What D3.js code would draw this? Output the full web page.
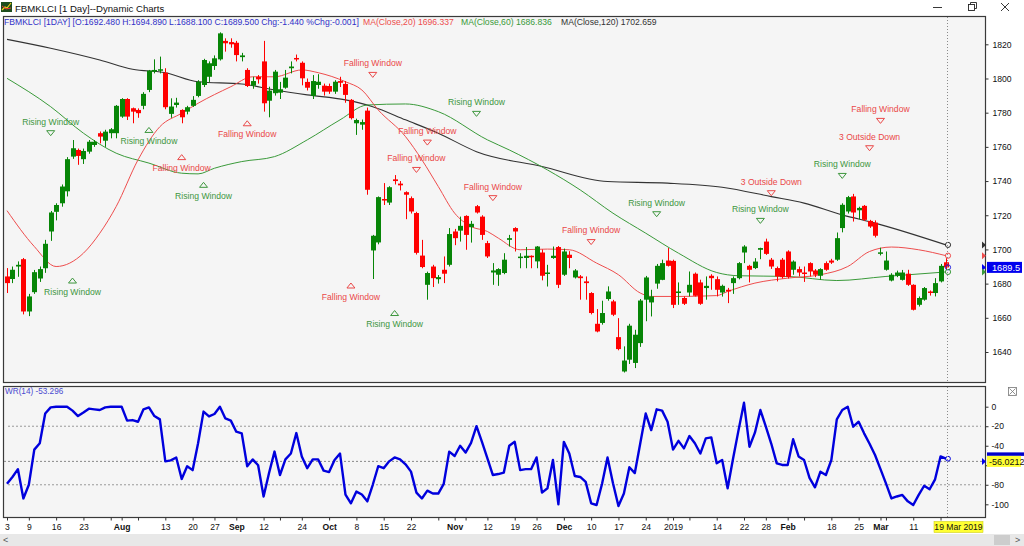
<!DOCTYPE html>
<html>
<head>
<meta charset="utf-8">
<script src="https://cdn.jsdelivr.net/npm/d3@7"></script>
<style>
  body { margin: 0; background: #fff; }
  svg { display: block; font-family: "Liberation Sans", Arial, sans-serif; }
</style>
</head>
<body>
<svg id="chart"></svg>
<script>
// ---- data (FBMKLCI daily, 3 Jul 2018 .. 19 Mar 2019) ----
const opens = [1684.2,1682.7,1690,1694.3,1663.7,1675,1683,1689,1710.5,1722,1727,1734,1754.3,1758.2,1752.8,1757.2,1761.1,1768,1763.6,1768,
  1768,1777.7,1788,1782.6,1781.6,1784,1793.3,1804,1804.6,1803.4,1779.3,1784.5,1781.6,1780.6,1784,1789.8,1796.2,1801,1807.3,1811.2,
  1822,1821.3,1820.9,1812.5,1805,1795.8,1801,1810,1787,1791.4,1791.7,1794.6,1806,1812,1809.2,1798,1789.8,1796.2,1795.8,1795.6,
  1792.3,1798.5,1796.8,1787.5,1773.8,1773,1781.2,1699.4,1704.1,1729.5,1727.4,1741,1738.5,1733.5,1730,1721.3,1696.4,1679.3,1690,1682.6,
  1688.1,1691,1710.5,1711,1719.6,1713,1725.3,1719.2,1703.7,1686.5,1685.2,1686.2,1705.6,1712.5,1695.3,1695,1696.3,1693,1698.2,1685.8,
  1695,1701.4,1685.2,1696.9,1683.6,1684.2,1681.3,1674.5,1656.5,1657,1671,1669.6,1648.7,1628.6,1635.5,1633.6,1645.2,1670.6,1669,1680,
  1682.2,1693.5,1693.3,1674.5,1671.6,1674.8,1685.8,1680.7,1677.4,1684.6,1682.6,1674.8,1676.4,1680.3,1683.2,1698.2,1690.4,1689.1,1699.8,1704.6,
  1694,1689.1,1694,1698.8,1688.1,1688.5,1686.5,1692,1687.7,1684.6,1692,1693.5,1694,1712.5,1722.2,1731,1722.9,1725.5,1716.7,1715.7,
  1698,1688.1,1681.8,1684.6,1682.2,1685.8,1679.3,1667.6,1670.6,1675.4,1674.5,1681.3,1692.48];
const highs = [1689.1,1690,1693,1695,1674,1688,1690,1705.6,1722.5,1727,1738,1754,1764,1759,1759,1764,1764,1769,1770,1771,
  1784.5,1788.5,1788.5,1783,1782.5,1792,1805,1811.2,1812.8,1806,1788.4,1788.7,1782,1784,1789.7,1799,1811.5,1810,1813.5,1827,
  1823.5,1823.5,1822,1815,1806,1801,1802,1822,1795.2,1805,1798,1805,1810,1814,1810,1800,1802,1802.5,1797,1797,
  1799,1801,1798.5,1788,1776.5,1776,1783,1708.5,1731,1738.8,1737,1743.5,1740,1734,1731,1722,1705.6,1687,1691,1685,
  1695.9,1712.5,1712,1719.2,1720,1716.7,1726,1720,1705,1692,1689,1697.8,1708.5,1713,1697.8,1701.4,1696.5,1702,1700,1691,
  1701.7,1702,1700.5,1699,1688.5,1685,1684.2,1675,1665.1,1670,1678.4,1670.5,1659.8,1643.3,1656.5,1653,1671,1684.5,1676.4,1691.5,
  1694,1700.8,1694,1680.7,1672.5,1687.1,1686.5,1682.3,1684.2,1685.5,1684.2,1679.4,1677.5,1684.2,1692.6,1702.5,1691,1694.9,1701,1706.3,
  1695,1690,1695,1699.5,1693.6,1690,1690,1692.5,1688.5,1689,1693,1694.5,1709.9,1727,1731.3,1732.5,1725,1726,1717.3,1717,
  1701,1698.8,1686.1,1687.6,1688,1688.1,1679.6,1672.5,1678,1676,1683.2,1691.5,1694.89];
const lows = [1674.5,1680.3,1684,1662,1661,1674,1681,1686.3,1705,1717,1725,1731,1753,1749.5,1750,1756,1760,1762,1760,1765,
  1765,1777,1775.7,1773.8,1777,1782,1792,1803,1803,1782,1777,1783,1773.8,1779,1783.4,1789,1795,1798,1805,1810.5,
  1815.7,1818,1810,1810,1795,1794,1797,1780.6,1777.3,1790,1788,1794,1803,1810,1796,1793,1788,1794,1790,1791,
  1791,1795,1785.8,1776,1767,1770,1732,1682.7,1703,1726,1726,1738,1734.5,1717.7,1721,1697,1689,1670.6,1678,1680,
  1680.3,1690,1702.5,1704.6,1699.8,1704,1721,1705.6,1695,1679.3,1678.7,1685.5,1701.7,1698.8,1689,1689,1689,1689,1681.9,1678.3,
  1694.5,1677.4,1684.5,1689,1683,1670.6,1670.6,1662,1651.5,1656,1670,1661,1641,1628,1633,1630.6,1643,1658,1660.8,1677,
  1682,1690,1665.7,1667.6,1667.5,1672.5,1672.5,1667.6,1670.6,1676.4,1672.5,1672.4,1668.6,1674,1682.5,1692,1680.7,1688.5,1694.3,1696.8,
  1688.6,1681.3,1683,1683,1685.2,1684.2,1681,1684.2,1683.8,1682.2,1687.5,1691.5,1693.3,1710,1721,1716.3,1717.7,1716.6,1712.6,1707,
  1696.5,1687.6,1681.3,1683.8,1681.8,1678.7,1664.3,1666.6,1670,1673,1672.5,1680.7,1688.1];
const closes = [1680.3,1688.1,1691,1663.7,1672.5,1686.7,1688.5,1703.3,1721.6,1726,1736.8,1752.8,1759.2,1754.7,1757.6,1763,1763,1766,1768.9,1770.3,
  1784,1788,1777.7,1780.6,1779.7,1791,1804.6,1805,1805.4,1783.2,1783.6,1785.9,1777.3,1783.2,1787.5,1798.1,1810.8,1808.9,1811.8,1826.4,
  1820.6,1820,1813.7,1813.5,1795.6,1798.5,1799.5,1785.5,1792.9,1804,1793.7,1800.5,1807,1811.2,1800.1,1794.6,1798.5,1798.1,1792.3,1792.3,
  1798.1,1797.5,1790.4,1776.8,1775.7,1774.5,1734.9,1708,1730.6,1728.6,1736.4,1740,1737.5,1732,1722.2,1698,1689.7,1686.2,1683.2,1683.8,
  1685.8,1709,1706.6,1713.8,1708.5,1715,1721.6,1708.5,1695.9,1687.7,1688.5,1694,1706.6,1710.5,1695.8,1696.3,1695.5,1701.7,1684.6,1686.5,
  1696.3,1679.3,1698.8,1695,1687.7,1683.2,1680.3,1662.8,1652,1662.8,1675.4,1661.8,1641.7,1635,1655.4,1650.1,1670.1,1683.6,1672.5,1690.4,
  1692,1690.4,1667.6,1675.4,1668.2,1679.3,1672.9,1668.2,1678.7,1683.2,1676.4,1678.7,1675.4,1683.2,1692,1701.7,1688.1,1692.9,1700.8,1697.4,
  1690,1684.2,1683.8,1683.8,1692.9,1686.5,1686,1687.1,1685.2,1688.5,1688.1,1692.3,1706.6,1726.1,1730.6,1721.6,1724.3,1717.3,1713.4,1708,
  1698.3,1693.5,1685.2,1686.5,1686.5,1679.3,1664.7,1671.6,1677.4,1674.8,1680.3,1690.4,1689.5];

// moving averages, sampled along the curve (candle index, value)
const ma20Idx = [0,5,9,14,17,20,24,28,32,35,41,45,49,54,57,62,65,68,73,76,79,82,85,88,90,94,99,103,108,112,116,118,123,130,132,137,143,149,154,158,162,167,172];
const ma20Val = [1722.7,1701.7,1690,1697.8,1709.5,1725.1,1752.4,1771.8,1779.7,1785.5,1795.2,1801,1801,1805,1803.4,1798.1,1793.3,1781.6,1766,1752.4,1736.8,1721.2,1713.4,1710.5,1706.6,1699.8,1700.2,1699.8,1692,1685.2,1674.5,1672.5,1672.5,1673,1675.4,1680.3,1683.2,1685.2,1690,1698.8,1701.4,1699.8,1696.337];
const ma60Idx = [0,8,14,20,26,32,35,38,43,49,55,61,66,73,79,88,92,99,105,111,117,123,130,134,143,152,161,172];
const ma60Val = [1800.1,1783.5,1768,1756.3,1750.5,1744.6,1744.2,1747.5,1751.4,1754.3,1764.1,1775.8,1784.5,1785.1,1780.6,1764.1,1758.2,1746.5,1734.8,1721.2,1709.5,1697.8,1686.5,1684.6,1684.2,1681.8,1684.2,1686.836];
const ma120Idx = [0,8,17,23,29,35,43,49,55,62,67,73,79,86,98,110,121,131,140,146,153,159,172];
const ma120Val = [1822.9,1817.7,1810.8,1805.4,1803.4,1798.1,1796.8,1793.3,1790.4,1787.5,1783.5,1775.8,1768,1757.2,1748.5,1739.7,1738.8,1736.4,1730.9,1727.1,1720.2,1715.4,1702.659];

// Williams %R (14), one value per candle
const wr = [-79,-72,-64,-94,-80,-44,-37.5,-7,-0.7,0,0,0,-4,-9.6,-6,-2,-2.7,-3.4,-0.7,0,
  0,0,-14.3,-13.7,-15.4,-2.7,-0.7,-9.6,-13,-56,-55,-52,-74,-61,-65,-37.5,-5,-10,-7.5,0,
  -12,-14.3,-25.6,-27.3,-61,-54,-60,-92,-68,-46,-70,-54,-48,-27,-51,-63,-54,-54,-65.5,-67,
  -54.6,-48,-90,-99,-87,-90,-97,-80,-61,-63,-56,-52,-54,-59,-66.5,-88,-94,-86,-89,-89,
  -79,-46,-50.5,-40,-47,-37,-20,-36,-53,-70,-69,-67.6,-40,-36,-65,-64,-64,-52,-88,-83.6,
  -54.6,-100,-36,-48,-71,-72,-77,-99,-100.7,-79,-52,-78.5,-101.7,-89,-62,-68,-37.5,-7,-24,-2.7,
  -4,-15.4,-44,-35,-42.7,-30,-37.5,-48,-32.4,-31.4,-58,-54.6,-83.6,-53,-24,4,-41,-26.6,-3.4,-20.5,
  -38,-58,-59.7,-59.7,-33.4,-51,-54.6,-73,-82.6,-66.6,-70,-54.6,-13,-3.4,0,-20.5,-15.4,-27.3,-38,-49.5,
  -64,-78.5,-94,-92,-90.4,-97,-100.7,-90.4,-81,-84.6,-74.4,-51,-53.3];

// date axis: candle index of each tick and its label
const tickIdx = [0,4,9,14,19,21,24,29,34,38,42,47,50,54,59,64,69,74,79,82,84,88,93,97,102,107,112,117,121,122,125,130,135,139,143,146,151,156,160,161,166,171];
const tickLabel = ["3","9","16","23","","Aug","","13","20","27","Sep","12","","24","Oct","8","15","22","","Nov","","12","19","26","Dec","10","17","24","","2019","","14","22","28","Feb","","18","25","Mar","","11",""];

// candlestick patterns
const patIdx   = [12,8,26,32,36,44,67,63,71,77,75,86,89,107,119,138,140,153,158,160];
const patPrice = [1681.8,1768,1769.9,1754,1737.8,1773.8,1802.1,1678.9,1662.8,1762.5,1746.5,1779.3,1730,1704.3,1720.6,1716.7,1732.9,1743,1759.2,1775.2];
const patName  = ["Rising Window","Rising Window","Rising Window","Falling Window","Rising Window","Falling Window","Falling Window","Falling Window","Rising Window","Falling Window",
  "Falling Window","Rising Window","Falling Window","Falling Window","Rising Window","Rising Window","3 Outside Down","Rising Window","3 Outside Down","Falling Window"];
const patBelow = [true,false,true,true,true,true,false,true,true,false,false,false,false,false,false,false,false,false,false,false];

const priceTicks = [1640,1660,1680,1700,1720,1740,1760,1780,1800,1820];
const wrTicks = [0,-20,-40,-60,-80,-100];
const wrLabelled = [0,-20,-40,-80,-100];   // -60 sits under the value box

// ---- drawing ----
const W = 1024, H = 546;
const FS = 8.6;
const UP = '#078507', DOWN = '#ff0000';
const C20 = '#ee4d4d', C60 = '#3a9a3a', C120 = '#333333';

const svg = d3.select('#chart').attr('width', W).attr('height', H);

const main = { left: 3, right: 985, top: 16, bottom: 382 };
const low = { left: 3, right: 985, top: 386, bottom: 517 };

const x = d3.scaleLinear().domain([0, 172]).range([7, 946]);
const y = d3.scaleLinear().domain([1640, 1820]).range([352, 44.3]);
const yWR = d3.scaleLinear().domain([-100, 0]).range([504.3, 406.7]);
const px = i => Math.round(x(i)) + 0.5;

// window title bar
svg.append('rect').attr('width', W).attr('height', H).attr('fill', '#ffffff');
const icon = svg.append('g');
icon.append('rect').attr('x', 1).attr('y', 2).attr('width', 11).attr('height', 10).attr('fill', '#1d4d1d');
icon.append('polyline').attr('points', '2,10 5,7 7,8 11,3').attr('fill', 'none').attr('stroke', '#f2d21b').attr('stroke-width', 1.2);
icon.append('polyline').attr('points', '2,6 6,9 11,8').attr('fill', 'none').attr('stroke', '#e33').attr('stroke-width', 1);
svg.append('text').attr('x', 15).attr('y', 11.5).attr('font-size', 9.6).attr('fill', '#111')
  .text('FBMKLCI [1 Day]--Dynamic Charts');
const ctl = svg.append('g').attr('stroke', '#222').attr('fill', 'none').attr('stroke-width', 0.9);
ctl.append('line').attr('x1', 933).attr('x2', 942).attr('y1', 7.5).attr('y2', 7.5);
ctl.append('rect').attr('x', 968.5).attr('y', 4.5).attr('width', 6).attr('height', 6);
ctl.append('polyline').attr('points', '970.5,4.5 970.5,2.5 976.5,2.5 976.5,8.5 974.5,8.5');
ctl.append('line').attr('x1', 1001).attr('x2', 1009).attr('y1', 3).attr('y2', 11);
ctl.append('line').attr('x1', 1009).attr('x2', 1001).attr('y1', 3).attr('y2', 11);

// panel backgrounds and borders
[main, low].forEach(p => {
  svg.append('rect').attr('x', p.left + 0.5).attr('y', p.top + 0.5)
    .attr('width', p.right - p.left).attr('height', p.bottom - p.top)
    .attr('fill', '#f5f5f5').attr('stroke', '#3a3a3a').attr('stroke-width', 1.2);
});

svg.append('defs').selectAll('clipPath').data([['clipMain', main], ['clipLow', low]]).join('clipPath')
  .attr('id', d => d[0])
  .append('rect').attr('x', d => d[1].left + 1).attr('y', d => d[1].top + 1)
  .attr('width', d => d[1].right - d[1].left - 1).attr('height', d => d[1].bottom - d[1].top - 1);

const gMain = svg.append('g').attr('clip-path', 'url(#clipMain)');
const gLow = svg.append('g').attr('clip-path', 'url(#clipLow)');

// moving averages
const maLine = d3.line().x(d => x(d[0])).y(d => y(d[1])).curve(d3.curveMonotoneX);
[[ma120Idx, ma120Val, C120, 1.1], [ma60Idx, ma60Val, C60, 1], [ma20Idx, ma20Val, C20, 1]].forEach(m => {
  gMain.append('path').datum(m[0].map((v, k) => [v, m[1][k]]))
    .attr('d', maLine).attr('fill', 'none').attr('stroke', m[2]).attr('stroke-width', m[3]);
});

// candles
const candles = closes.map((c, i) => ({ i, o: opens[i], h: highs[i], l: lows[i], c }));
const colorOf = d => d.c >= d.o ? UP : DOWN;
gMain.selectAll('.wick').data(candles).join('line').attr('class', 'wick')
  .attr('x1', d => px(d.i)).attr('x2', d => px(d.i))
  .attr('y1', d => y(d.h)).attr('y2', d => y(d.l))
  .attr('stroke', colorOf).attr('stroke-width', 1);
gMain.selectAll('.body').data(candles).join('rect').attr('class', 'body')
  .attr('x', d => px(d.i) - 2.5).attr('width', 5)
  .attr('y', d => y(Math.max(d.o, d.c)))
  .attr('height', d => Math.max(1.5, Math.abs(y(d.o) - y(d.c))))
  .attr('fill', colorOf);

// pattern markers
const pats = patIdx.map((v, k) => ({ i: v, p: patPrice[k], name: patName[k], below: patBelow[k] }));
const patColor = d => d.name.startsWith('Rising') ? '#3d963d' : '#ea4848';
const gPat = gMain.selectAll('.pat').data(pats).join('g').attr('class', 'pat')
  .attr('transform', d => `translate(${x(d.i)},${y(d.p)})`);
gPat.append('path')
  .attr('d', d => d.below ? 'M-4,2.5L4,2.5L0,-2.5Z' : 'M-4,-2.5L4,-2.5L0,2.5Z')
  .attr('fill', '#f5f5f5').attr('stroke', patColor).attr('stroke-width', 1);
gPat.append('text')
  .attr('y', d => d.below ? 14 : -8.6)
  .attr('text-anchor', 'middle').attr('font-size', FS).attr('fill', patColor)
  .text(d => d.name);

// cursor line at the last bar
const last = closes.length - 1;
[main, low].forEach(p => {
  svg.append('line').attr('x1', px(last) + 1).attr('x2', px(last) + 1)
    .attr('y1', p.top + 1).attr('y2', p.bottom)
    .attr('stroke', '#8a8a8a').attr('stroke-dasharray', '1,2');
});

// end-of-line circles
const endVals = [[ma120Val[ma120Val.length - 1], C120], [ma20Val[ma20Val.length - 1], C20],
  [closes[last], '#2222dd'], [ma60Val[ma60Val.length - 1], C60]];
gMain.selectAll('.endc').data(endVals).join('circle').attr('class', 'endc')
  .attr('cx', x(last) + 2).attr('cy', d => y(d[0])).attr('r', 2.6)
  .attr('fill', 'none').attr('stroke', d => d[1]).attr('stroke-width', 1);

// price axis
const yAxis = svg.append('g').attr('transform', `translate(${main.right + 0.5},0)`)
  .call(d3.axisRight(y).tickValues(priceTicks).tickFormat(d3.format('d')).tickSize(3).tickPadding(4));
yAxis.select('.domain').remove();
yAxis.selectAll('text').attr('font-size', FS).attr('fill', '#111').attr('font-family', 'Liberation Sans, Arial, sans-serif');
yAxis.selectAll('line').attr('stroke', '#333');

// right side value markers
const marker = (yy, col) => svg.append('path')
  .attr('d', `M${main.right - 3},${yy - 3.5}L${main.right + 1},${yy}L${main.right - 3},${yy + 3.5}Z`).attr('fill', col);
endVals.forEach(d => marker(y(d[0]), d[1] === '#2222dd' ? '#0000ee' : d[1]));
svg.append('rect').attr('x', 987).attr('y', y(closes[last]) - 5.5).attr('width', 35).attr('height', 11).attr('fill', '#0000ee');
svg.append('text').attr('x', 992).attr('y', y(closes[last]) + 3.2).attr('font-size', 9.2).attr('fill', '#fff')
  .text(closes[last].toFixed(1));

// header legend
const legend = svg.append('g').attr('font-size', FS);
legend.append('text').attr('x', 4).attr('y', 25).attr('fill', '#3030c8')
  .text(`FBMKLCI [1DAY] [O:${opens[last].toFixed(3)} H:${highs[last].toFixed(3)} L:${lows[last].toFixed(3)} C:${closes[last].toFixed(3)} Chg:-1.440 %Chg:-0.001]`);
legend.append('text').attr('x', 363).attr('y', 25).attr('fill', C20).text('MA(Close,20) ' + ma20Val[ma20Val.length - 1].toFixed(3));
legend.append('text').attr('x', 461).attr('y', 25).attr('fill', C60).text('MA(Close,60) ' + ma60Val[ma60Val.length - 1].toFixed(3));
legend.append('text').attr('x', 561).attr('y', 25).attr('fill', C120).text('MA(Close,120) ' + ma120Val[ma120Val.length - 1].toFixed(3));

// ---- Williams %R panel ----
const wrCursor = -56.0212;
[-20, -80].forEach(v => {
  gLow.append('line').attr('x1', 8).attr('x2', main.right - 4).attr('y1', yWR(v)).attr('y2', yWR(v))
    .attr('stroke', '#999').attr('stroke-dasharray', '2,2');
});
gLow.append('line').attr('x1', low.left + 1).attr('x2', main.right).attr('y1', yWR(wrCursor)).attr('y2', yWR(wrCursor))
  .attr('stroke', '#888').attr('stroke-dasharray', '2,2');

gLow.append('path').datum(wr)
  .attr('d', d3.line().x((d, i) => x(i)).y(d => yWR(d)))
  .attr('fill', 'none').attr('stroke', '#0000dd').attr('stroke-width', 2.4).attr('stroke-linejoin', 'round');
gLow.append('circle').attr('cx', x(last) + 2).attr('cy', yWR(wr[last])).attr('r', 2.4)
  .attr('fill', 'none').attr('stroke', '#0000dd').attr('stroke-width', 1);

svg.append('text').attr('x', 5).attr('y', 394).attr('font-size', FS - 0.4).attr('fill', '#4a4ad0')
  .text('WR(14)  -53.296');

const wrAxis = svg.append('g').attr('transform', `translate(${low.right + 0.5},0)`)
  .call(d3.axisRight(yWR).tickValues(wrTicks).tickSize(3).tickPadding(3)
    .tickFormat(d => wrLabelled.includes(d) ? d : ''));
wrAxis.select('.domain').remove();
wrAxis.selectAll('text').attr('font-size', FS).attr('fill', '#111').attr('font-family', 'Liberation Sans, Arial, sans-serif');
wrAxis.selectAll('line').attr('stroke', '#333');

// close box icon
const xb = svg.append('g').attr('stroke', '#777').attr('fill', 'none').attr('stroke-width', 0.8);
xb.append('rect').attr('x', 1008.5).attr('y', 387.5).attr('width', 8).attr('height', 8);
xb.append('path').attr('d', 'M1009.5,388.5L1015.5,394.5M1015.5,388.5L1009.5,394.5');

// current WR value box
marker(yWR(wrCursor), '#0000ee');
svg.append('rect').attr('x', 987).attr('y', yWR(wrCursor) - 9).attr('width', 37).attr('height', 3.5).attr('fill', '#0000cc');
svg.append('rect').attr('x', 987).attr('y', yWR(wrCursor) - 5.5).attr('width', 34).attr('height', 11).attr('fill', '#ffff33');
svg.append('text').attr('x', 989).attr('y', yWR(wrCursor) + 3.3).attr('font-size', 9).attr('fill', '#111')
  .text(wrCursor.toFixed(4));

// ---- date axis ----
const xAxis = svg.append('g').attr('transform', `translate(0,${low.bottom + 0.5})`)
  .call(d3.axisBottom(x).tickValues(tickIdx).tickSize(3).tickPadding(3)
    .tickFormat((d, k) => tickLabel[k]));
xAxis.select('.domain').remove();
xAxis.selectAll('line').attr('stroke', '#333');
xAxis.selectAll('text').attr('font-size', FS).attr('fill', '#111')
  .attr('font-family', 'Liberation Sans, Arial, sans-serif')
  .attr('font-weight', (d, k) => isNaN(+tickLabel[k]) ? 'bold' : 'normal');

svg.append('rect').attr('x', 934).attr('y', 521.5).attr('width', 49).attr('height', 11)
  .attr('fill', '#ffff33').attr('stroke', '#c8c800').attr('stroke-width', 0.5);
svg.append('text').attr('x', 958.5).attr('y', 530).attr('text-anchor', 'middle')
  .attr('font-size', FS).attr('fill', '#111').text('19 Mar 2019');

// scrollbar
svg.append('rect').attr('x', 0).attr('y', 534).attr('width', W).attr('height', 12).attr('fill', '#e8e8e8');
svg.append('rect').attr('x', 994).attr('y', 535).attr('width', 16).attr('height', 10).attr('fill', '#cdcdcd');
svg.append('text').attr('x', 3).attr('y', 543).attr('font-size', 9).attr('fill', '#555').text('<');
svg.append('text').attr('x', 1015).attr('y', 543).attr('font-size', 9).attr('fill', '#555').text('>');
</script>
</body>
</html>
